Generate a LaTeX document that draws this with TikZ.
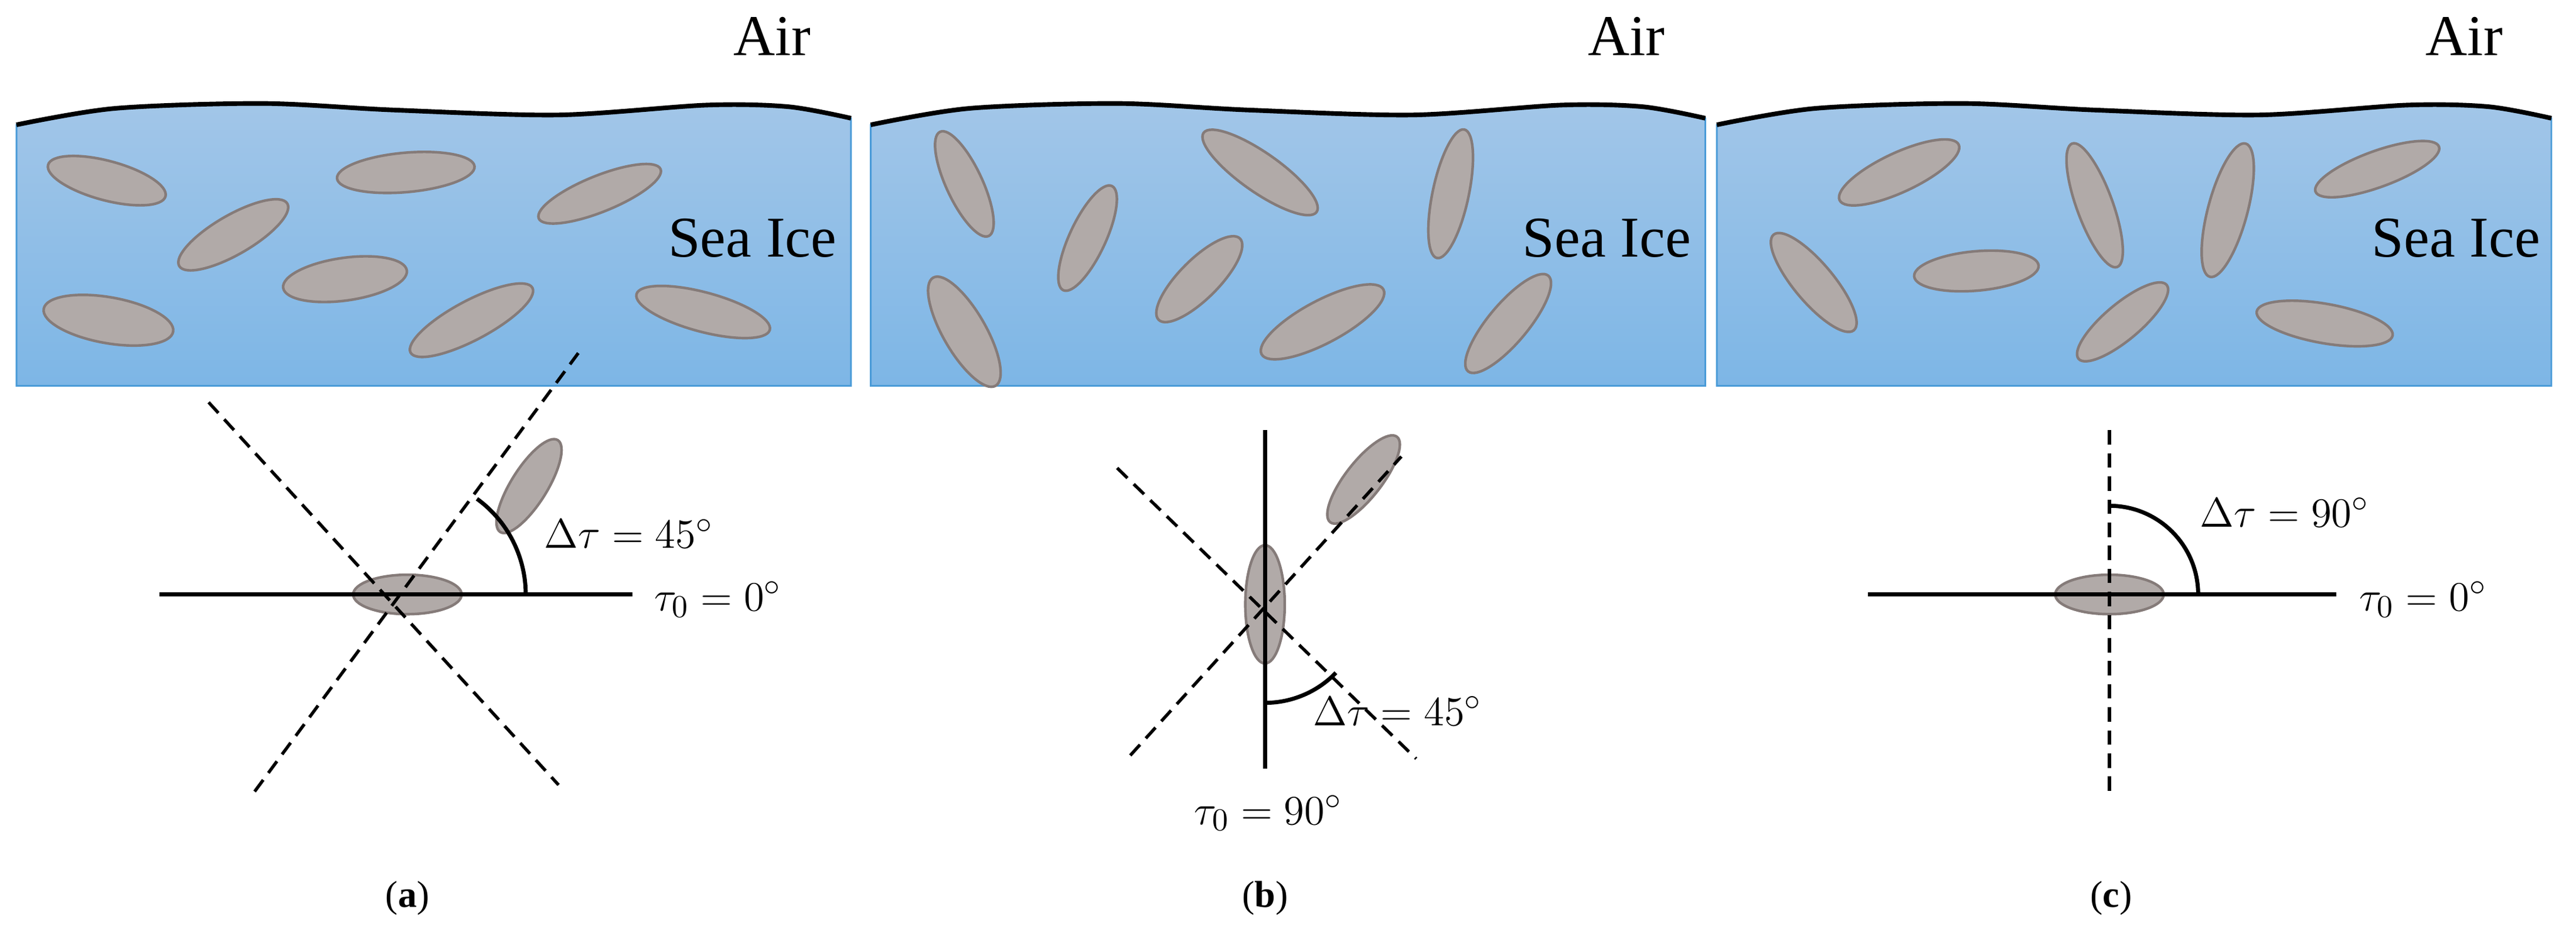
\documentclass[tikz,border=0pt]{standalone}
\usepackage{fontspec}
\setmainfont{Liberation Serif}
\begin{document}
\begin{tikzpicture}[x=0.02cm,y=0.02cm,
  grainst/.style={fill=grainf,draw=grainb,line width=0.9pt},
  solidln/.style={line width=1.4pt},
  dashln/.style={line width=1.1pt,dashed,dash pattern=on 5pt off 3pt},
  anglabel/.style={font=\fontsize{15}{18}\selectfont,anchor=west},
  bigtxt/.style={font=\fontsize{20}{24}\selectfont}]
\definecolor{topb}{HTML}{A2C6E8}
\definecolor{botb}{HTML}{7DB6E6}
\definecolor{edgeb}{HTML}{4A9BD8}
\definecolor{grainf}{HTML}{B1AAA8}
\definecolor{grainb}{HTML}{857B79}
\useasboundingbox (0,0) rectangle (1568,-565);
\newcommand\grain[5]{\draw[grainst,rotate around={#5:(#1,-#2)}] (#1,-#2) ellipse (#3 and #4);}
\newcommand\seabox[1]{%
  \shade[top color=topb, bottom color=botb,draw=edgeb,line width=0.6pt]
  plot[smooth] coordinates{(#1,-76)(#1+60,-66)(#1+150,-63)(#1+230,-67)(#1+330,-70)(#1+420,-64)(#1+470,-65)(#1+508,-72)} -- (#1+508,-235) -- (#1,-235) -- cycle;
  \draw[line width=1.6pt] plot[smooth] coordinates{(#1,-76)(#1+60,-66)(#1+150,-63)(#1+230,-67)(#1+330,-70)(#1+420,-64)(#1+470,-65)(#1+508,-72)};}
% panels
\seabox{10}\seabox{530}\seabox{1045}
\node[bigtxt] (aira) at (470,-22) {Air};
\node[bigtxt] (airb) at (990,-22) {Air};
\node[bigtxt] (airc) at (1500,-22) {Air};
\node[bigtxt] (sia) at (458,-145) {Sea Ice};
\node[bigtxt] (sib) at (978,-145) {Sea Ice};
\node[bigtxt] (sic) at (1495,-145) {Sea Ice};
% grains a
\grain{65}{110}{37}{12}{-15}
\grain{247}{105}{42}{12}{5}
\grain{142}{143}{38}{12}{30}
\grain{365}{118}{40}{11}{22}
\grain{210}{170}{38}{13}{8}
\grain{66}{195}{40}{14}{-10}
\grain{287}{195}{42}{12}{28}
\grain{428}{190}{42}{12}{-15}
% grains b
\grain{587}{112}{35}{11}{-65}
\grain{662}{145}{35}{11}{65}
\grain{767}{105}{42}{12}{-35}
\grain{883}{118}{40}{11}{78}
\grain{730}{170}{35}{12}{45}
\grain{587}{202}{38}{13}{-60}
\grain{805}{196}{42}{13}{28}
\grain{918}{197}{38}{12}{50}
% grains c
\grain{1156}{105}{40}{12}{25}
\grain{1275}{125}{40}{11}{-70}
\grain{1356}{128}{42}{12}{75}
\grain{1447}{103}{40}{11}{20}
\grain{1203}{165}{38}{12}{5}
\grain{1104}{172}{38}{12}{-50}
\grain{1292}{196}{35}{11}{40}
\grain{1415}{197}{42}{12}{-10}
% lower a
\coordinate (ac) at (248,-362);
\coordinate (al) at (97,-362); \coordinate (ar) at (385,-362);
\coordinate (ad1) at (155,-482); \coordinate (ad2) at (352,-215);
\coordinate (ad3) at (127,-245); \coordinate (ad4) at (340,-478);
\grain{248}{362}{33}{12}{0}
\grain{322}{296}{33}{11}{58}
\draw[solidln] (al) -- (ar);
\draw[dashln] (ad1) -- (ad2);
\draw[dashln] (ad3) -- (ad4);
\draw[solidln] (320,-362) arc[start angle=0,end angle=54,radius=72];
\node[anglabel] (la1) at (325,-325) {$\Delta\tau = 45^\circ$};
\node[anglabel] (la2) at (392,-365) {$\tau_0 = 0^\circ$};
% lower b
\coordinate (bt) at (770,-262); \coordinate (bb) at (770,-468);
\coordinate (bd1) at (680,-285); \coordinate (bd2) at (862,-462);
\coordinate (bd3) at (688,-460); \coordinate (bd4) at (853,-278);
\grain{770}{368}{12}{36}{0}
\grain{830}{292}{33}{11}{52}
\draw[solidln] (bt) -- (bb);
\draw[dashln] (bd1) -- (bd2);
\draw[dashln] (bd3) -- (bd4);
\draw[solidln] (770,-428) arc[start angle=-90,end angle=-44,radius=60];
\node[anglabel] (lb1) at (793,-433) {$\Delta\tau = 45^\circ$};
\node[anglabel,anchor=center] (lb2) at (772,-495) {$\tau_0 = 90^\circ$};
% lower c
\coordinate (cl) at (1137,-362); \coordinate (cr) at (1422,-362);
\coordinate (ct) at (1284,-262); \coordinate (cb) at (1284,-482);
\grain{1284}{362}{33}{12}{0}
\draw[solidln] (cl) -- (cr);
\draw[dashln] (ct) -- (cb);
\draw[solidln] (1338,-362) arc[start angle=0,end angle=90,radius=54];
\node[anglabel] (lc1) at (1333,-312) {$\Delta\tau = 90^\circ$};
\node[anglabel] (lc2) at (1430,-365) {$\tau_0 = 0^\circ$};
% captions
\node[font=\fontsize{13}{16}\selectfont] (capa) at (248,-547) {(\textbf{a})};
\node[font=\fontsize{13}{16}\selectfont] (capb) at (770,-547) {(\textbf{b})};
\node[font=\fontsize{13}{16}\selectfont] (capc) at (1285,-547) {(\textbf{c})};
\end{tikzpicture}
\end{document}
